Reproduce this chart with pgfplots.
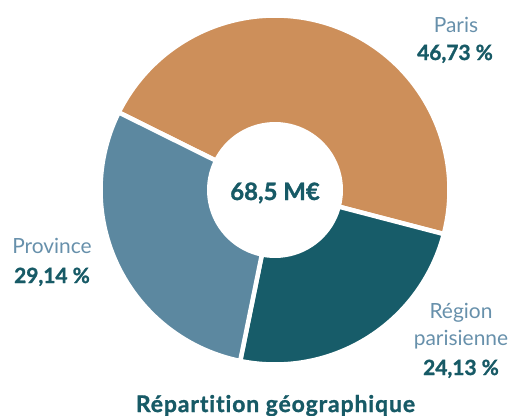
\documentclass[border=0pt]{standalone}
\usepackage{pgfplots}
\usepackage{pgfplotstable}
\pgfplotsset{compat=1.18}
\usepackage{fontspec}
\setmainfont{Lato}[Ligatures=NoCommon,BoldFeatures={FakeBold=1.3}]
\definecolor{cParis}{HTML}{CD8F5A}
\definecolor{cRegion}{HTML}{175C69}
\definecolor{cProv}{HTML}{5C88A0}
\definecolor{cName}{HTML}{6790AB}
\definecolor{cPct}{HTML}{175A66}
\pgfplotstableread{
label value
Paris 46.73
Region 24.13
Province 29.14
}\datatable
\pgfplotstablegetelem{0}{value}\of\datatable \let\vParis\pgfplotsretval
\pgfplotstablegetelem{1}{value}\of\datatable \let\vRegion\pgfplotsretval
\pgfplotstablegetelem{2}{value}\of\datatable \let\vProv\pgfplotsretval
\pgfmathsetmacro{\aA}{153.6}
\pgfmathsetmacro{\aB}{\aA-3.6*\vParis}
\pgfmathsetmacro{\aC}{\aB-3.6*\vRegion}
\pgfmathsetmacro{\aD}{\aC-3.6*\vProv}
\begin{document}
\begin{tikzpicture}
\begin{axis}[x=1bp,y=1bp,xmin=0,xmax=512,ymin=0,ymax=416,hide axis,clip=false,anchor=origin,at={(0,0)}]
\addplot[fill=cParis,draw=white,line width=4.5bp,line join=round,domain=\aB:\aA,samples=90,variable=\t]
  ({275+174.5*cos(t)},{226+174.5*sin(t)}) -- (axis cs:275,226) -- cycle;
\addplot[fill=cRegion,draw=white,line width=4.5bp,line join=round,domain=\aC:\aB,samples=60,variable=\t]
  ({275+174.5*cos(t)},{226+174.5*sin(t)}) -- (axis cs:275,226) -- cycle;
\addplot[fill=cProv,draw=white,line width=4.5bp,line join=round,domain=\aD:\aC,samples=60,variable=\t]
  ({275+174.5*cos(t)},{226+174.5*sin(t)}) -- (axis cs:275,226) -- cycle;
\addplot[fill=white,draw=none,domain=0:360,samples=90,variable=\t]
  ({275+68*cos(t)},{226+68*sin(t)}) -- cycle;
\node[anchor=base,text=cPct,font=\fontsize{24}{28}\selectfont\bfseries] at (axis cs:275,216) {68,5 M€};
\node[anchor=base,text=cName,font=\fontsize{21}{25}\selectfont] at (axis cs:456,384) {Paris};
\node[anchor=base,text=cPct,font=\fontsize{21}{25}\selectfont\bfseries] at (axis cs:455,356) {46,73 \%};
\node[anchor=base,text=cName,font=\fontsize{21}{25}\selectfont] at (axis cs:52,163) {Province};
\node[anchor=base,text=cPct,font=\fontsize{21}{25}\selectfont\bfseries] at (axis cs:52,133) {29,14 \%};
\node[anchor=base,text=cName,font=\fontsize{21}{25}\selectfont] at (axis cs:461,98) {Région};
\node[anchor=base,text=cName,font=\fontsize{21}{25}\selectfont] at (axis cs:461,71) {parisienne};
\node[anchor=base,text=cPct,font=\fontsize{21}{25}\selectfont\bfseries] at (axis cs:461,41) {24,13 \%};
\node[anchor=base,text=cPct,font=\fontsize{23}{27}\selectfont\bfseries\addfontfeatures{LetterSpace=4}] at (axis cs:275.5,4) {Répartition géographique};
\end{axis}
\pgfresetboundingbox
\path (0,0) rectangle (512bp,416bp);
\end{tikzpicture}
\end{document}
